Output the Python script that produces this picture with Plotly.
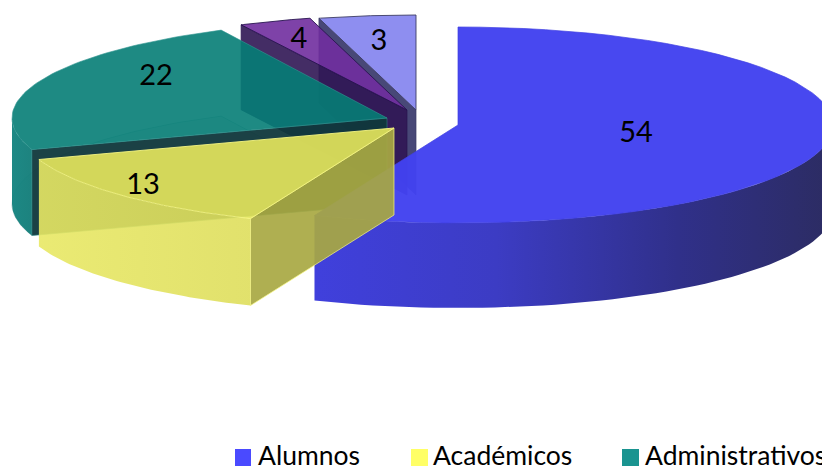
import math
import plotly.graph_objects as go

# ---- data ----
NAMES = ["Alumnos", "Académicos", "Administrativos"]
LABELS = ["54", "13", "22", "4", "3"]
# angular shares (the last two are drawn 3 and 4 wide)
SHARES = [54, 13, 22, 3, 4]

# ---- styling / placement ----
W, H = 822, 470
CENTERS = [(458, 125), (394, 128), (387, 118), (407, 110), (416, 110)]
RADII_Y = [98, 98, 98, 95, 95]
RADIUS_X = 375
DEPTH = [85, 87, 86, 85, 85]
TOP = ["rgba(66,66,240,0.97)", "rgba(230,230,92,0.91)", "rgba(5,125,118,0.90)",
       "rgba(112,46,158,0.90)", "rgba(142,142,240,1)"]
WALL = [None, "rgba(168,168,66,0.92)", "rgba(16,56,60,0.95)",
        "rgba(48,22,84,0.90)", "rgba(62,62,112,0.95)"]
EDGE = ["rgba(64,64,225,0.7)", "rgba(245,245,130,0.9)", "rgba(50,150,145,0.6)",
        "rgba(40,20,80,0.9)", "rgba(60,60,100,0.9)"]
SIDE = [
    [[0, "#4040dc"], [0.35, "#3c3cc4"], [0.7, "#30308a"], [1, "#2c2c62"]],
    [[0, "rgba(232,232,100,0.90)"], [1, "rgba(222,222,92,0.90)"]],
    [[0, "rgba(20,132,128,0.96)"], [1, "rgba(20,126,122,0.96)"]],
]
LABEL_POS = [(636, 135), (143, 187), (156, 78), (299, 41), (379, 43)]
LEGEND_BOX = [(235, 251), (411, 428), (622, 639)]
LEGEND_TXT = [258, 433, 645]
LEGEND_COL = ["#4a4aff", "#ffff66", "#1a9490"]
FONT = "Lato, Carlito, sans-serif"

total = sum(SHARES)
spans = []
a = 0.0
for s in SHARES:
    spans.append((a, a + 360.0 * s / total))
    a = spans[-1][1]


def rim(i, t0, t1, drop=0.0, n=60):
    cx, cy = CENTERS[i]
    xs, ys = [], []
    for k in range(n + 1):
        t = math.radians(t0 + (t1 - t0) * k / n)
        xs.append(cx + RADIUS_X * math.sin(t))
        ys.append(cy - RADII_Y[i] * math.cos(t) + drop)
    return xs, ys


fig = go.Figure()


def poly(xs, ys, fill=None, line=None, width=1.0, gradient=None):
    kw = dict(x=xs, y=ys, mode="lines", fill="toself", hoverinfo="skip",
              showlegend=False, line=dict(color=line or "rgba(0,0,0,0)", width=width))
    if gradient:
        kw["fillgradient"] = dict(type="horizontal", colorscale=gradient)
    else:
        kw["fillcolor"] = fill
    fig.add_trace(go.Scatter(**kw))


def top_face(i):
    xs, ys = rim(i, *spans[i])
    cx, cy = CENTERS[i]
    poly([cx] + xs + [cx], [cy] + ys + [cy], TOP[i], EDGE[i])


def wall(i, angle):
    cx, cy = CENTERS[i]
    x1, y1 = rim(i, angle, angle, n=1)
    d = DEPTH[i]
    poly([cx, x1[0], x1[0], cx, cx], [cy, y1[0], y1[0] + d, cy + d, cy], WALL[i], EDGE[i], 0.8)


def side(i, t0, t1):
    xa, ya = rim(i, t0, t1)
    xb, yb = rim(i, t0, t1, DEPTH[i])
    poly(xa + xb[::-1] + [xa[0]], ya + yb[::-1] + [ya[0]], gradient=SIDE[i])


# back to front: light slice, purple slice, teal, blue, yellow
wall(4, spans[4][0])
top_face(4)
wall(3, spans[3][0])
top_face(3)

# teal slice: faint back wall and floor seen through it
cx, cy = CENTERS[2]
fx, fy = rim(2, *spans[2], DEPTH[2])
poly([cx] + fx + [cx], [cy + DEPTH[2]] + fy + [cy + DEPTH[2]], "rgba(0,70,70,0.10)", "rgba(10,90,90,0.35)", 0.8)
side(2, spans[2][0], 270)
wall(2, spans[2][0])
top_face(2)

# blue slice
side(0, 90, spans[0][1])
top_face(0)

# yellow slice
side(1, *spans[1])
wall(1, spans[1][0])
top_face(1)

# slice labels
fig.add_trace(go.Scatter(
    x=[p[0] for p in LABEL_POS], y=[p[1] for p in LABEL_POS], text=LABELS, mode="text",
    textposition="middle center", textfont=dict(family=FONT, size=29, color="#000000"),
    hoverinfo="skip", showlegend=False, cliponaxis=False))

# legend texts
fig.add_trace(go.Scatter(
    x=LEGEND_TXT, y=[458] * len(LEGEND_TXT), text=NAMES, mode="text",
    textposition="middle right", textfont=dict(family=FONT, size=26.5, color="#000000"),
    hoverinfo="skip", showlegend=False, cliponaxis=False))

shapes = [dict(type="rect", x0=x0, x1=x1, y0=449, y1=466, xref="x", yref="y",
               fillcolor=c, line=dict(width=0))
          for (x0, x1), c in zip(LEGEND_BOX, LEGEND_COL)]

fig.update_layout(
    width=W, height=H, margin=dict(l=0, r=0, t=0, b=0),
    paper_bgcolor="#ffffff", plot_bgcolor="#ffffff", showlegend=False,
    xaxis=dict(range=[0, W], visible=False, fixedrange=True),
    yaxis=dict(range=[H, 0], visible=False, fixedrange=True),
    shapes=shapes,
)
fig.write_html("out.html", config={"displayModeBar": False},
               post_script="document.body.style.margin='0';document.body.style.overflow='hidden';")
